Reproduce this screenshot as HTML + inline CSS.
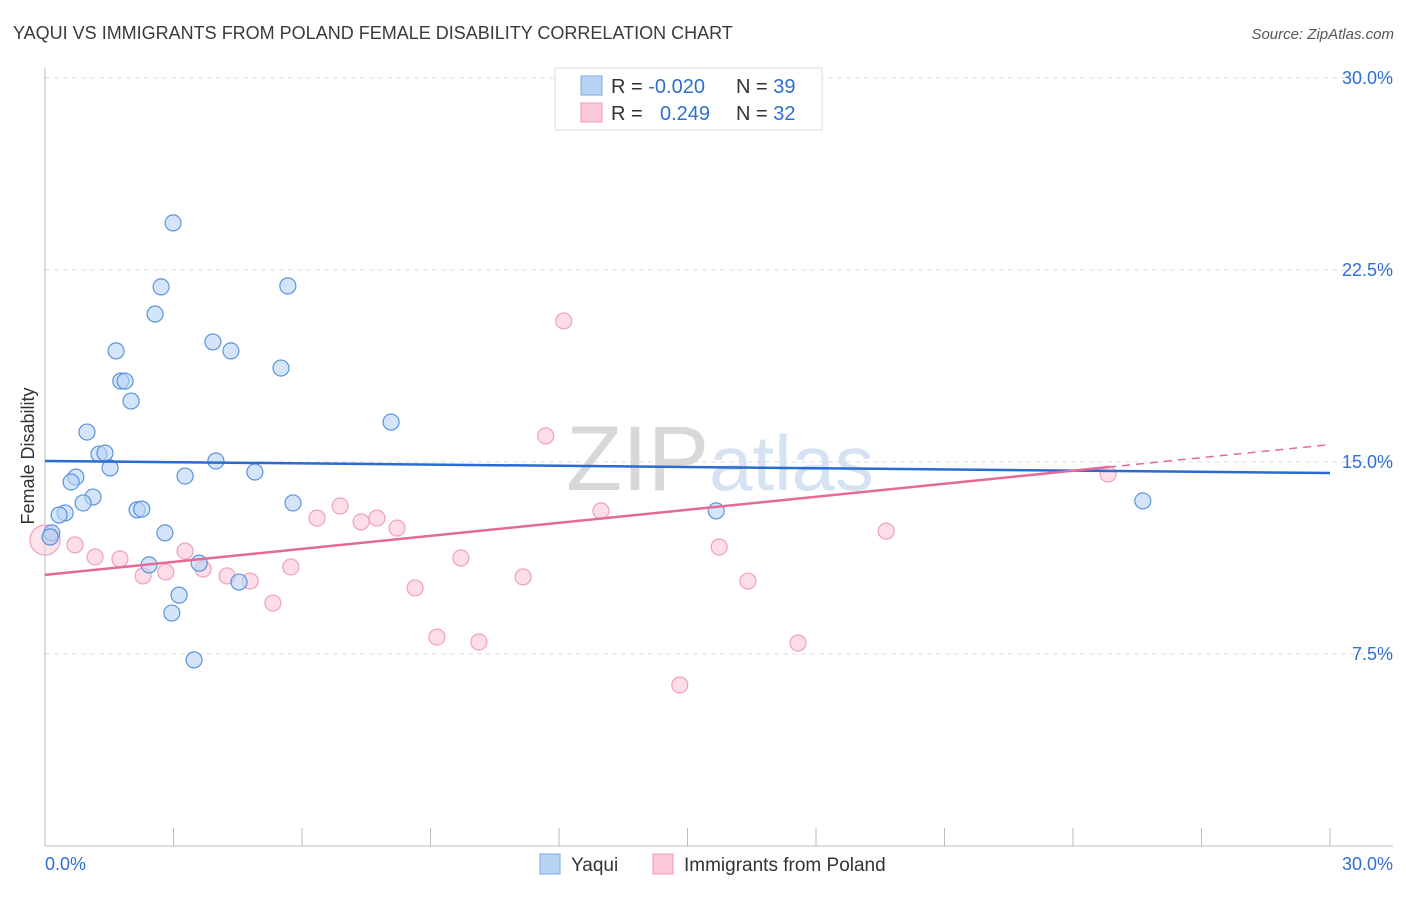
<!DOCTYPE html>
<html><head><meta charset="utf-8"><style>
body{margin:0;background:#fff;font-family:"Liberation Sans",sans-serif;}
svg text{font-family:"Liberation Sans",sans-serif;}
</style></head><body>
<svg id="chart" width="1406" height="892" xmlns="http://www.w3.org/2000/svg">
<text x="13" y="39" font-size="18" fill="#3a3a3a">YAQUI VS IMMIGRANTS FROM POLAND FEMALE DISABILITY CORRELATION CHART</text>
<text x="1394" y="39" font-size="15" fill="#555" text-anchor="end" font-style="italic">Source: ZipAtlas.com</text>
<text x="720" y="490" font-size="92" text-anchor="middle" fill="#e4e4e4" font-family="Liberation Serif"><tspan fill="#d8d8d8">ZIP</tspan><tspan fill="#d5e2f2" font-family="Liberation Sans" font-size="78">atlas</tspan></text>
<g id="grid"></g>
<g id="axes"></g>
<text transform="translate(34,456) rotate(-90)" font-size="18" fill="#333" text-anchor="middle">Female Disability</text>
<g id="marks"></g>
<g>
<rect x="555" y="68" width="267" height="62" fill="#fff" stroke="#ddd"/>
<rect x="581" y="76" width="21" height="19" fill="#b8d4f5" stroke="#7aaae6"/>
<rect x="581" y="103" width="21" height="19" fill="#fcc8d8" stroke="#f09ab5"/>
<text x="611" y="93" font-size="20" fill="#333">R = <tspan fill="#2f6fd0">-0.020</tspan></text>
<text x="736" y="93" font-size="20" fill="#333">N = <tspan fill="#2f6fd0">39</tspan></text>
<text x="611" y="120" font-size="20" fill="#333">R = <tspan fill="#2f6fd0" x="660">0.249</tspan></text>
<text x="736" y="120" font-size="20" fill="#333">N = <tspan fill="#2f6fd0">32</tspan></text>
</g>
<g>
<rect x="540" y="854" width="20" height="20" fill="#b8d4f5" stroke="#7aaae6"/>
<text x="571" y="871" font-size="19" fill="#333">Yaqui</text>
<rect x="653" y="854" width="20" height="20" fill="#fcc8d8" stroke="#f09ab5"/>
<text x="684" y="871" font-size="19" fill="#333">Immigrants from Poland</text>
</g>
</svg>
<script>
const yTicks=[7.5,15,22.5,30];
const yTickLabels=["7.5%","15.0%","22.5%","30.0%"];
const xEnds=[0,30];
const xEndLabels=["0.0%","30.0%"];
const yaquiX=[2.99,2.71,2.57,5.67,1.66,3.92,4.34,5.51,1.77,1.87,2.01,8.08,0.98,1.26,1.40,1.52,3.99,3.27,4.90,0.72,0.61,1.12,0.89,5.79,2.15,2.26,0.47,0.33,2.80,0.16,2.43,3.60,4.53,3.13,2.96,3.48,15.67,25.63,0.12];
const yaquiY=[24.34,21.84,20.78,21.88,19.34,19.69,19.34,18.67,18.16,18.16,17.38,16.56,16.17,15.31,15.35,14.77,15.04,14.45,14.61,14.41,14.22,13.63,13.40,13.40,13.13,13.16,13.01,12.93,12.23,12.23,10.98,11.05,10.31,9.80,9.10,7.27,13.09,13.48,12.07];
const polandX=[0.12,0.70,1.17,1.75,2.29,2.82,3.27,3.69,4.25,4.79,5.32,5.74,6.35,6.89,7.38,7.75,8.22,8.64,9.15,9.71,10.13,11.16,11.69,12.11,12.98,14.82,15.74,16.41,17.58,19.64,24.82,0];
const polandY=[12.07,11.76,11.29,11.21,10.55,10.70,11.52,10.82,10.55,10.35,9.49,10.90,12.81,13.28,12.66,12.81,12.42,10.08,8.16,11.25,7.97,10.51,16.02,20.51,13.09,6.29,11.68,10.35,7.93,12.30,14.53,11.95];
const yaquiTrend=[15.04,14.57];
const polandTrend=[10.59,14.80,15.68];
const polandTrendX=[0,24.82,30];

const NS="http://www.w3.org/2000/svg";
const xs=v=>45+v/30*1285;
const ys=v=>846-v/7.5*192;
function mk(tag,attrs,parent){const e=document.createElementNS(NS,tag);for(const k in attrs)e.setAttribute(k,attrs[k]);parent.appendChild(e);return e;}
const grid=document.getElementById('grid'),axes=document.getElementById('axes'),marks=document.getElementById('marks');
yTicks.forEach((t,i)=>{
 const l=mk('line',{x1:45,x2:1393,y1:ys(t),y2:ys(t),stroke:'#ddd','stroke-dasharray':'5,4'},grid);
 
 
 const tx=mk('text',{x:1393,y:ys(t)+6,'font-size':18,fill:'#2f6fd0','text-anchor':'end'},axes);
 tx.textContent=yTickLabels[i];
 
 
});
const ax=mk('line',{x1:45,x2:1393,y1:846,y2:846,stroke:'#bbb'},axes);


const ay=mk('line',{x1:45,x2:45,y1:68,y2:846,stroke:'#bbb'},axes);


for(let v=3;v<=30;v+=3){
 const t=mk('line',{x1:xs(v),x2:xs(v),y1:828,y2:846,stroke:'#bbb'},axes);
 
 
}
xEnds.forEach((v,i)=>{
 const tx=mk('text',{x:i?1393:45,y:870,'font-size':18,fill:'#2f6fd0','text-anchor':i?'end':'start'},axes);
 tx.textContent=xEndLabels[i];
 
 
});
polandX.forEach((x,i)=>{
 const big=(i===polandX.length-1);
 const c=mk('circle',{cx:xs(x),cy:ys(polandY[i]),r:big?15:8,fill:'#fcc8d8','fill-opacity':big?0.5:0.6,stroke:'#f0a0ba','stroke-width':1.2},marks);
 
 
});
yaquiX.forEach((x,i)=>{
 const c=mk('circle',{cx:xs(x),cy:ys(yaquiY[i]),r:8,fill:'#b8d4f5','fill-opacity':0.6,stroke:'#5a93dc','stroke-width':1.2},marks);
 
 
});
const bl=mk('line',{x1:xs(0),x2:xs(30),y1:ys(yaquiTrend[0]),y2:ys(yaquiTrend[1]),stroke:'#2a6bd1','stroke-width':2.5},marks);


const pl=mk('line',{x1:xs(polandTrendX[0]),x2:xs(polandTrendX[1]),y1:ys(polandTrend[0]),y2:ys(polandTrend[1]),stroke:'#e56a95','stroke-width':2.5},marks);


const pd=mk('line',{x1:xs(polandTrendX[1]),x2:xs(polandTrendX[2]),y1:ys(polandTrend[1]),y2:ys(polandTrend[2]),stroke:'#e56a95','stroke-width':1.5,'stroke-dasharray':'8,6'},marks);


</script>
</body></html>
